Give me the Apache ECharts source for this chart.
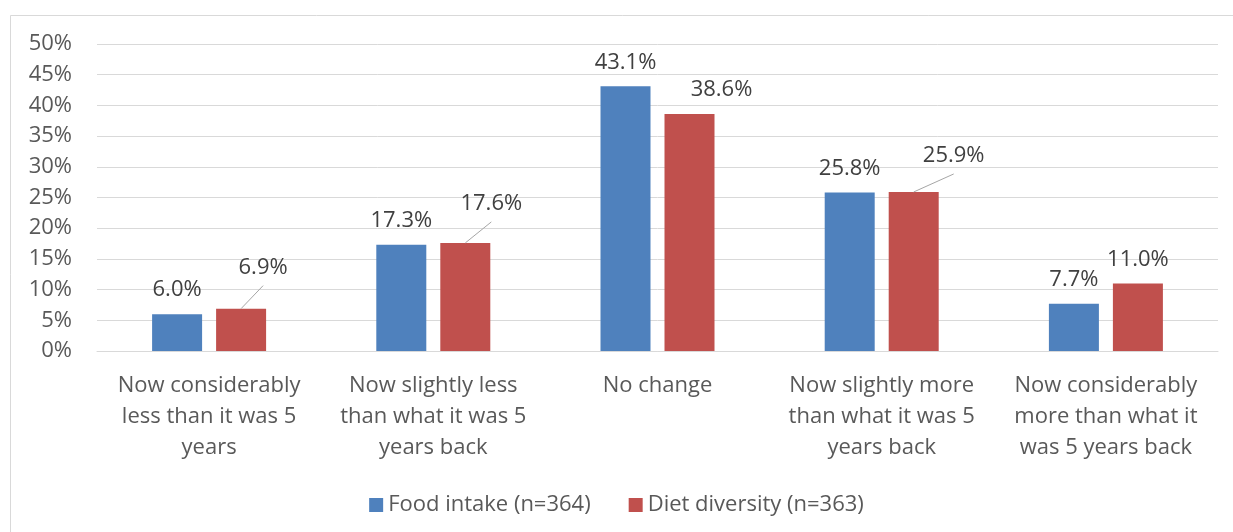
<!DOCTYPE html>
<html>
<head>
<meta charset="utf-8">
<script src="https://cdn.jsdelivr.net/npm/echarts@6/dist/echarts.min.js"></script>
<style>
  html, body { margin: 0; padding: 0; background: #ffffff; }
  #chart { width: 1233px; height: 532px; }
</style>
</head>
<body>
<div id="chart"></div>
<script>
// Change in household food intake and diet diversity over the past 5 years
const categories = [
  'Now considerably\nless than it was 5\nyears',
  'Now slightly less\nthan what it was 5\nyears back',
  'No change',
  'Now slightly more\nthan what it was 5\nyears back',
  'Now considerably\nmore than what it\nwas 5 years back'
];
const foodIntake = [6.0, 17.3, 43.1, 25.8, 7.7];
const dietDiversity = [6.9, 17.6, 38.6, 25.9, 11.0];
const seriesNames = ['Food intake (n=364)', 'Diet diversity (n=363)'];

// Shifted data labels on the diet diversity bars (pixel nudges), with leader lines
const dietLabelShift = [[22, -17], [26, -15], [32, 0], [40, -12], [0, 0]];
const dietLeader = [true, true, false, true, false];

const FONT = 'Open Sans';
const FONT_SIZE = 22;
const BAR_WIDTH = 50;
const BAR_GAP = 14;
const LABEL_DISTANCE = 13;

const chart = echarts.init(document.getElementById('chart'), null, { renderer: 'canvas' });

const labelStyle = {
  show: true,
  position: 'top',
  distance: LABEL_DISTANCE,
  fontFamily: FONT,
  fontSize: FONT_SIZE,
  color: '#404040',
  formatter: p => p.value.toFixed(1) + '%'
};

// Leader lines: from the top centre of a diet diversity bar to the foot of its shifted label
const leaderData = dietDiversity
  .map((v, i) => [i, v, dietLabelShift[i][0], dietLabelShift[i][1]])
  .filter((d, i) => dietLeader[i]);

function renderLeader(params, api) {
  const top = api.coord([api.value(0), api.value(1)]);
  const x0 = top[0] + (BAR_WIDTH + BAR_GAP) / 2;
  const y0 = top[1];
  const x1 = x0 + api.value(2);
  const y1 = y0 - LABEL_DISTANCE + api.value(3) + 7;
  return {
    type: 'line',
    shape: { x1: x0, y1: y0, x2: x1, y2: y1 },
    style: { stroke: '#a6a6a6', lineWidth: 1 },
    silent: true
  };
}

chart.setOption({
  animation: false,
  backgroundColor: '#ffffff',
  graphic: [{
    type: 'rect',
    shape: { x: 10.5, y: 15.5, width: 1400, height: 700 },
    style: { fill: 'none', stroke: '#d9d9d9', lineWidth: 1 },
    silent: true,
    z: -10
  }],
  grid: { left: 97, right: 15, top: 44, bottom: 181 },
  legend: {
    bottom: 11,
    left: 'center',
    itemWidth: 14,
    itemHeight: 14,
    itemGap: 38,
    icon: 'rect',
    textStyle: { fontFamily: FONT, fontSize: FONT_SIZE, color: '#595959' },
    data: seriesNames
  },
  xAxis: {
    type: 'category',
    data: categories,
    axisLine: { show: true, lineStyle: { color: '#d9d9d9', width: 1 } },
    axisTick: { show: false },
    axisLabel: {
      interval: 0,
      margin: 19,
      fontFamily: FONT,
      fontSize: FONT_SIZE,
      lineHeight: 31,
      color: '#595959',
      align: 'center'
    }
  },
  yAxis: {
    type: 'value',
    min: 0,
    max: 50,
    interval: 5,
    axisLine: { show: false },
    axisTick: { show: false },
    splitLine: { lineStyle: { color: '#d9d9d9', width: 1 } },
    axisLabel: {
      margin: 25,
      fontFamily: FONT,
      fontSize: FONT_SIZE,
      color: '#595959',
      formatter: '{value}%'
    }
  },
  series: [
    {
      name: seriesNames[0],
      type: 'bar',
      data: foodIntake,
      barWidth: BAR_WIDTH,
      barGap: (BAR_GAP / BAR_WIDTH * 100) + '%',
      itemStyle: { color: '#4f81bd' },
      label: labelStyle
    },
    {
      name: seriesNames[1],
      type: 'bar',
      data: dietDiversity,
      barWidth: BAR_WIDTH,
      itemStyle: { color: '#c0504d' },
      label: labelStyle,
      labelLayout: p => ({ dx: dietLabelShift[p.dataIndex][0], dy: dietLabelShift[p.dataIndex][1] })
    },
    {
      name: 'leaders',
      type: 'custom',
      data: leaderData,
      renderItem: renderLeader,
      silent: true,
      z: 3
    }
  ]
});
</script>
</body>
</html>
